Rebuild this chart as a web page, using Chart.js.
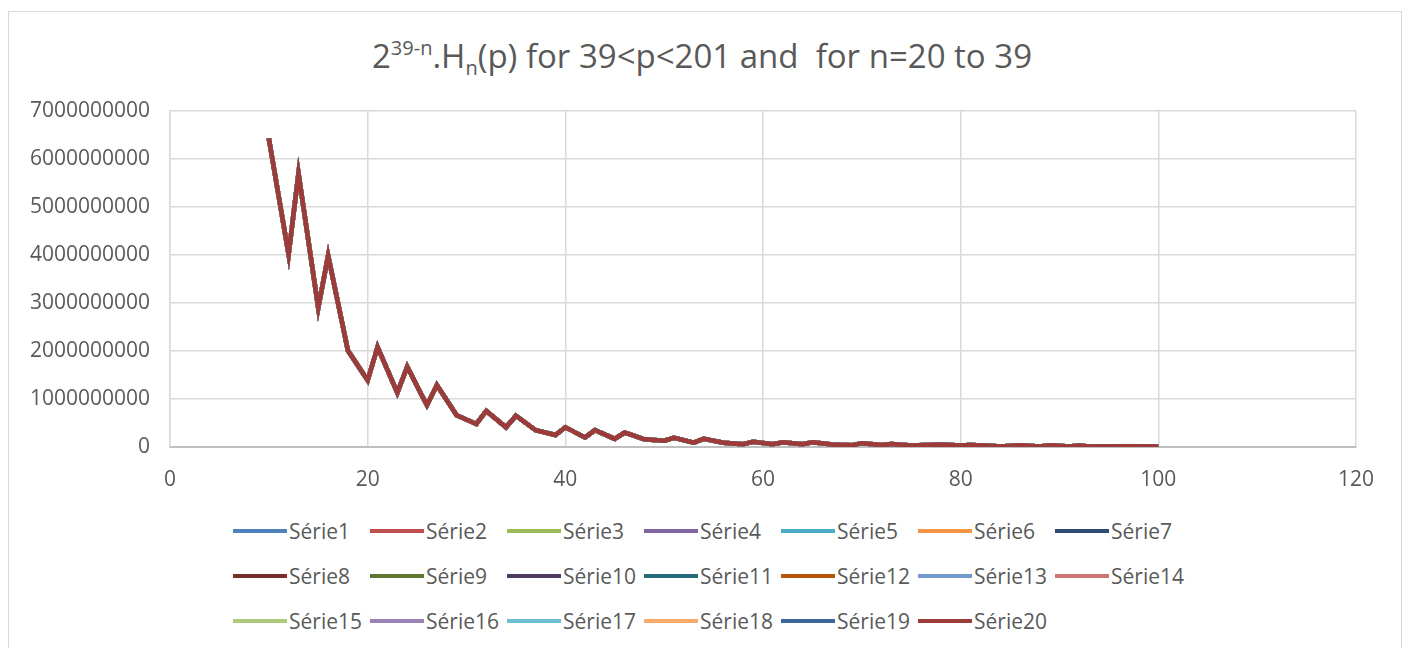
<!DOCTYPE html>
<html>
<head>
<meta charset="utf-8">
<script src="https://cdn.jsdelivr.net/npm/chart.js@4/dist/chart.umd.min.js"></script>
<style>
  html, body { margin: 0; padding: 0; background: #fff; overflow: hidden; }
  body { width: 1408px; height: 648px; position: relative; font-family: "Open Sans", sans-serif; color: #595959; }
  #frame { position: absolute; left: 8px; top: 11px; width: 1394px; height: 700px; border: 1.5px solid #d9d9d9; box-sizing: border-box; }
  #title { position: absolute; left: 0; top: 36px; width: 1404px; text-align: center; font-size: 33px; line-height: 40px; white-space: pre; }
  #title sup { font-size: 20px; vertical-align: 13px; line-height: 0; }
  #title sub { font-size: 20px; vertical-align: -7px; line-height: 0; }
  #wrap { position: absolute; left: 0; top: 0; width: 1408px; height: 500px; }
  #legend { position: absolute; left: 233px; top: 517px; display: grid; grid-template-columns: repeat(7, 137px); row-gap: 17px; }
  .item { display: flex; align-items: center; height: 28px; font-size: 21px; white-space: nowrap; }
  .item span.line { display: inline-block; width: 54px; height: 4px; margin-right: 2px; }
</style>
</head>
<body>
<div id="frame"></div>
<div id="title">2<sup>39-n</sup>.H<sub>n</sub>(p) for 39&lt;p&lt;201 and  for n=20 to 39</div>
<div id="wrap"><canvas id="chart"></canvas></div>
<div id="legend"></div>
<script>
// p values along the x axis (only the corners of the curve are listed)
const xValues = [10, 12, 13, 15, 16, 18, 20, 21, 23, 24, 26, 27, 29, 31, 32, 34, 35, 37, 39, 40,
  42, 43, 45, 46, 48, 50, 51, 53, 54, 56, 58, 59, 61, 62, 64, 65, 67, 69, 70, 72,
  73, 75, 78, 80, 81, 83, 84, 86, 88, 89, 91, 92, 93, 97, 100]

// 2^(39-n).Hn(p), all 20 series lie on top of each other
const hValues = [6430000000, 4010000000, 5700000000, 2900000000, 3990000000, 2010000000,
  1390000000, 2080000000, 1130000000, 1670000000, 870000000, 1290000000, 660000000,
  480000000, 750000000, 410000000, 650000000, 350000000, 250000000, 410000000,
  200000000, 350000000, 170000000, 300000000, 160000000, 130000000, 190000000,
  90000000, 170000000, 90000000, 60000000, 110000000, 60000000, 100000000,
  60000000, 100000000, 50000000, 35000000, 80000000, 40000000, 60000000,
  30000000, 50000000, 30000000, 40000000, 25000000, 10000000, 35000000,
  10000000, 35000000, 10000000, 30000000, 10000000, 15000000, 8000000]

const seriesNames = ['Série1', 'Série2', 'Série3', 'Série4', 'Série5', 'Série6', 'Série7',
  'Série8', 'Série9', 'Série10', 'Série11', 'Série12', 'Série13', 'Série14',
  'Série15', 'Série16', 'Série17', 'Série18', 'Série19', 'Série20']

const seriesColors = ['#4f81bd', '#c0504d', '#9bbb59', '#8064a2', '#4bacc6', '#f79646', '#2c4d75',
  '#772c2a', '#5f7530', '#4d3b62', '#276a7c', '#b65708', '#729aca', '#cd7371',
  '#afc97a', '#9983b5', '#6fbdd1', '#f9ab6b', '#3a679c', '#9c3b38']

const xTicks = { min: 0, max: 120, step: 20 }
const yTicks = { min: 0, max: 7000000000, step: 1000000000 }

const points = xValues.map((x, i) => ({ x: x, y: hValues[i] }))

const datasets = seriesNames.map((name, i) => ({
  label: name,
  data: points,
  borderColor: seriesColors[i],
  backgroundColor: seriesColors[i],
  borderWidth: 4.5,
  pointRadius: 0,
  tension: 0,
  fill: false,
  order: seriesNames.length - 1 - i   // last series ends up on top, like Excel
}))

const gridColor = '#d9d9d9'
const tickFont = { family: '"Open Sans", sans-serif', size: 21 }

const chart = new Chart(document.getElementById('chart'), {
  type: 'line',
  data: { datasets: datasets },
  options: {
    responsive: true,
    maintainAspectRatio: false,
    animation: false,
    layout: { padding: { top: 111, right: 52, left: 0, bottom: 0 } },
    plugins: {
      legend: { display: false },
      title: { display: false },
      tooltip: { enabled: false }
    },
    scales: {
      x: {
        type: 'linear',
        min: xTicks.min,
        max: xTicks.max,
        ticks: { stepSize: xTicks.step, color: '#595959', font: tickFont, padding: 20 },
        grid: { color: gridColor, lineWidth: 1.5, drawTicks: false },
        border: { color: '#bfbfbf', width: 2 },
        afterFit: (s) => { s.height = 53 }
      },
      y: {
        min: yTicks.min,
        max: yTicks.max,
        ticks: { stepSize: yTicks.step, color: '#595959', font: tickFont, padding: 20,
                 callback: (v) => String(v) },
        grid: { color: gridColor, lineWidth: 1.5, drawTicks: false },
        border: { color: gridColor, width: 1.5 },
        afterFit: (s) => { s.width = 170 }
      }
    }
  }
})

// Excel style legend: 7 fixed columns under the chart
const legend = document.getElementById('legend')
chart.data.datasets.forEach((ds) => {
  const item = document.createElement('div')
  item.className = 'item'
  const line = document.createElement('span')
  line.className = 'line'
  line.style.background = ds.borderColor
  item.appendChild(line)
  item.appendChild(document.createTextNode(ds.label))
  legend.appendChild(item)
})
</script>
</body>
</html>
